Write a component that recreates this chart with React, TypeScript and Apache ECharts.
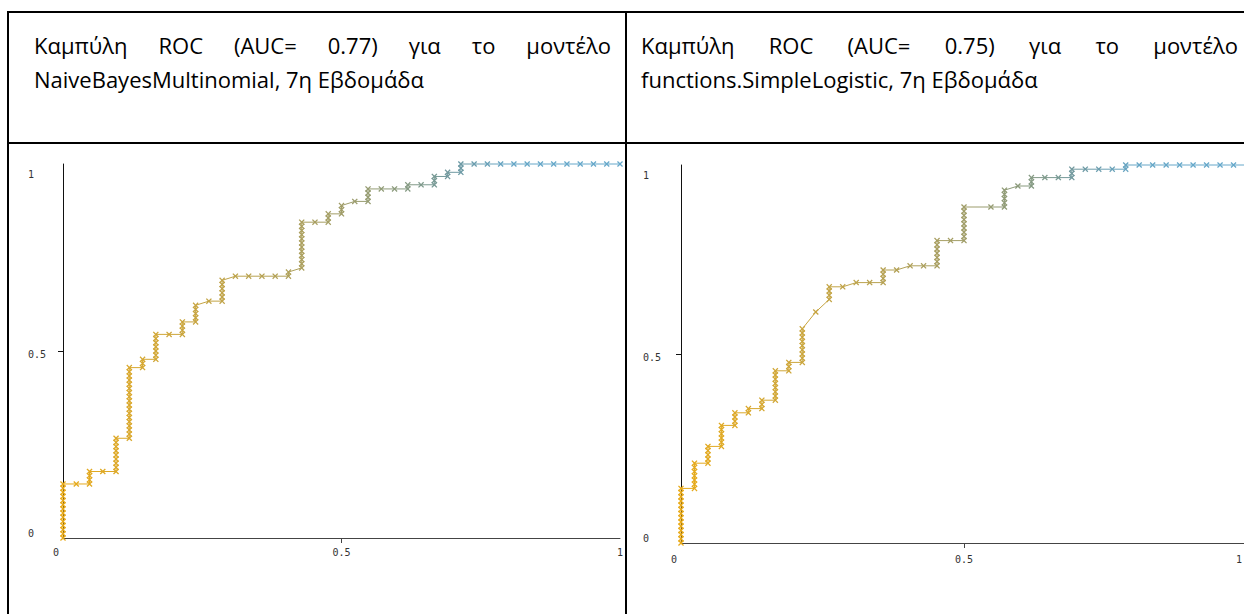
import React, { useEffect, useRef } from "react";
import * as echarts from "echarts";

// Axis tick values (both charts)
const TICKS = [0, 0.5, 1];

// Header texts
const leftTitleLine1 = ["Καμπύλη", "ROC", "(AUC=", "0.77)", "για", "το", "μοντέλο"];
const leftTitleLine2 = "NaiveBayesMultinomial, 7η Εβδομάδα";
const rightTitleLine1 = ["Καμπύλη", "ROC", "(AUC=", "0.75)", "για", "το", "μοντέλο"];
const rightTitleLine2 = "functions.SimpleLogistic, 7η Εβδομάδα";

// ROC curves, run-length encoded: each run = `count` successive thresholds,
// each adding `neg` false positives and `pos` true positives.
// NaiveBayesMultinomial
const nbRunCount = [13, 2, 3, 2, 8, 1, 17, 1, 2, 1, 6, 2, 3, 1, 4, 1, 1, 5, 1, 4, 1, 1, 11, 2, 2, 1, 2, 1, 1, 3, 3, 1, 2, 2, 1, 1, 1, 2, 12];
const nbRunNeg = [0, 1, 0, 1, 0, 1, 0, 1, 0, 1, 0, 1, 0, 1, 0, 1, 1, 0, 1, 1, 0, 1, 0, 1, 0, 1, 0, 1, 1, 0, 1, 0, 1, 0, 1, 0, 1, 0, 1];
const nbRunPos = [1, 0, 1, 0, 1, 0, 1, 0, 1, 0, 1, 0, 1, 0, 1, 1, 0, 1, 1, 0, 1, 1, 1, 0, 1, 0, 1, 1, 0, 1, 0, 1, 0, 1, 0, 1, 0, 1, 0];
// functions.SimpleLogistic
const slRunCount = [13, 1, 6, 1, 4, 1, 5, 1, 3, 1, 1, 1, 2, 1, 7, 1, 2, 1, 8, 1, 1, 3, 1, 1, 2, 3, 1, 1, 2, 6, 2, 8, 1, 1, 4, 1, 1, 2, 3, 2, 4, 1, 9];
const slRunNeg = [0, 1, 0, 1, 0, 1, 0, 1, 0, 1, 0, 1, 0, 1, 0, 1, 0, 1, 0, 1, 1, 0, 1, 1, 1, 0, 1, 1, 1, 0, 1, 0, 2, 1, 0, 1, 1, 0, 1, 0, 1, 0, 1];
const slRunPos = [1, 0, 1, 0, 1, 0, 1, 0, 1, 0, 1, 0, 1, 0, 1, 0, 1, 0, 1, 4, 3, 1, 0, 1, 0, 1, 0, 1, 0, 1, 0, 1, 0, 0, 1, 1, 0, 1, 0, 1, 0, 1, 0];

// Weka threshold colour ramp (orange -> olive -> grey -> blue)
const rampColors = ["#e8aa18", "#dca828", "#cca53a", "#bea34a", "#b0a058", "#a09d68", "#8a9a7c", "#6e98a0", "#66a6c6", "#66a8ca", "#66a8ca"];

function decodeRuns(count: number[], neg: number[], pos: number[]): number[][] {
  const pts: number[][] = [[0, 0]];
  let fp = 0;
  let tp = 0;
  for (let i = 0; i < count.length; i++) {
    for (let k = 0; k < count[i]; k++) {
      fp += neg[i];
      tp += pos[i];
      pts.push([fp, tp]);
    }
  }
  const nNeg = fp;
  const nPos = tp;
  return pts.map(([f, t]) => [f / nNeg, t / nPos]);
}

const CROSS =
  "path://M0,1.5L1.5,0L5,3.5L8.5,0L10,1.5L6.5,5L10,8.5L8.5,10L5,6.5L1.5,10L0,8.5L3.5,5Z";

const labelFont = {
  fontFamily: "DejaVu Sans Mono",
  fontSize: 10,
  color: "#333",
};

function yAxis(gridIndex: number, margin: number) {
  return {
    type: "value",
    gridIndex,
    min: 0,
    max: 1,
    interval: 0.5,
    axisLine: { show: true, lineStyle: { color: "#111", width: 1 } },
    axisTick: { show: true, customValues: [0.5], length: 5, lineStyle: { color: "#111" } },
    splitLine: { show: false },
    axisLabel: {
      show: true,
      customValues: TICKS,
      margin,
      align: "left",
      ...labelFont,
      formatter: (v: number) => (v === 1 ? `{hi|${v}}` : v === 0 ? `{lo|${v}}` : `{mid|${v}}`),
      rich: {
        hi: { ...labelFont, padding: [20, 0, 0, 0] },
        mid: { ...labelFont, padding: [7, 0, 0, 0] },
        lo: { ...labelFont, padding: [0, 0, 9, 0] },
      },
    },
  };
}

function xAxis(gridIndex: number, margin: number, endShift: number) {
  return {
    type: "value",
    gridIndex,
    min: 0,
    max: 1,
    interval: 0.5,
    axisLine: { show: true, onZero: false, lineStyle: { color: "#444", width: 1 } },
    axisTick: { show: true, customValues: [0.5], length: 5, lineStyle: { color: "#444" } },
    splitLine: { show: false },
    axisLabel: {
      show: true,
      customValues: TICKS,
      margin,
      ...labelFont,
      formatter: (v: number) => (v === 0 ? `{z|${v}}` : v === 1 ? `{e|${v}}` : `{n|${v}}`),
      rich: {
        z: { ...labelFont, padding: [0, 14, 0, 0] },
        n: { ...labelFont },
        e: { ...labelFont, padding: [0, endShift, 0, 0] },
      },
    },
  };
}

function rocSeries(idx: number, data: number[][]) {
  return {
    type: "line",
    xAxisIndex: idx,
    yAxisIndex: idx,
    data,
    clip: false,
    symbol: CROSS,
    symbolSize: 6,
    showSymbol: true,
    lineStyle: { width: 1 },
    silent: true,
    emphasis: { disabled: true },
  };
}

const headerFont: React.CSSProperties = {
  fontFamily: '"Open Sans", "Noto Sans", sans-serif',
  fontSize: 22,
  lineHeight: "30px",
  color: "#000",
  whiteSpace: "nowrap",
  position: "absolute",
};

export default function App() {
  const ref = useRef<HTMLDivElement>(null);

  useEffect(() => {
    document.body.style.margin = "0";
    const chart = echarts.init(ref.current!, null, { renderer: "svg" });
    const nbData = decodeRuns(nbRunCount, nbRunNeg, nbRunPos);
    const slData = decodeRuns(slRunCount, slRunNeg, slRunPos);
    chart.setOption({
      animation: false,
      grid: [
        { left: 63, top: 164, width: 557, height: 374, containLabel: false, outerBoundsMode: "none" },
        { left: 681, top: 165, width: 566, height: 378, containLabel: false, outerBoundsMode: "none" },
      ],
      xAxis: [xAxis(0, 9, 0), xAxis(1, 11, 16)],
      yAxis: [yAxis(0, 35), yAxis(1, 38)],
      visualMap: {
        type: "continuous",
        show: false,
        dimension: 0,
        seriesIndex: [0, 1],
        min: 0,
        max: 1,
        inRange: { color: rampColors },
      },
      series: [rocSeries(0, nbData), rocSeries(1, slData)],
    });
    return () => chart.dispose();
  }, []);

  const border = (l: number, t: number, w: number, h: number): React.CSSProperties => ({
    position: "absolute",
    left: l,
    top: t,
    width: w,
    height: h,
    background: "#000",
  });

  return (
    <div style={{ position: "relative", width: 1244, height: 614, overflow: "hidden", background: "#fff" }}>
      <div ref={ref} style={{ position: "absolute", left: 0, top: 0, width: 1244, height: 614 }} />
      <div style={border(7, 11, 1237, 2)} />
      <div style={border(7, 142, 1237, 2)} />
      <div style={border(7, 11, 2, 603)} />
      <div style={border(625, 11, 2, 603)} />
      <div style={{ ...headerFont, left: 34, top: 30, width: 577, display: "flex", justifyContent: "space-between" }}>
        {leftTitleLine1.map((w, i) => (
          <span key={i}>{w}</span>
        ))}
      </div>
      <div style={{ ...headerFont, left: 34, top: 64 }}>{leftTitleLine2}</div>
      <div style={{ ...headerFont, left: 641, top: 30, width: 597, display: "flex", justifyContent: "space-between" }}>
        {rightTitleLine1.map((w, i) => (
          <span key={i}>{w}</span>
        ))}
      </div>
      <div style={{ ...headerFont, left: 641, top: 64 }}>{rightTitleLine2}</div>
    </div>
  );
}
